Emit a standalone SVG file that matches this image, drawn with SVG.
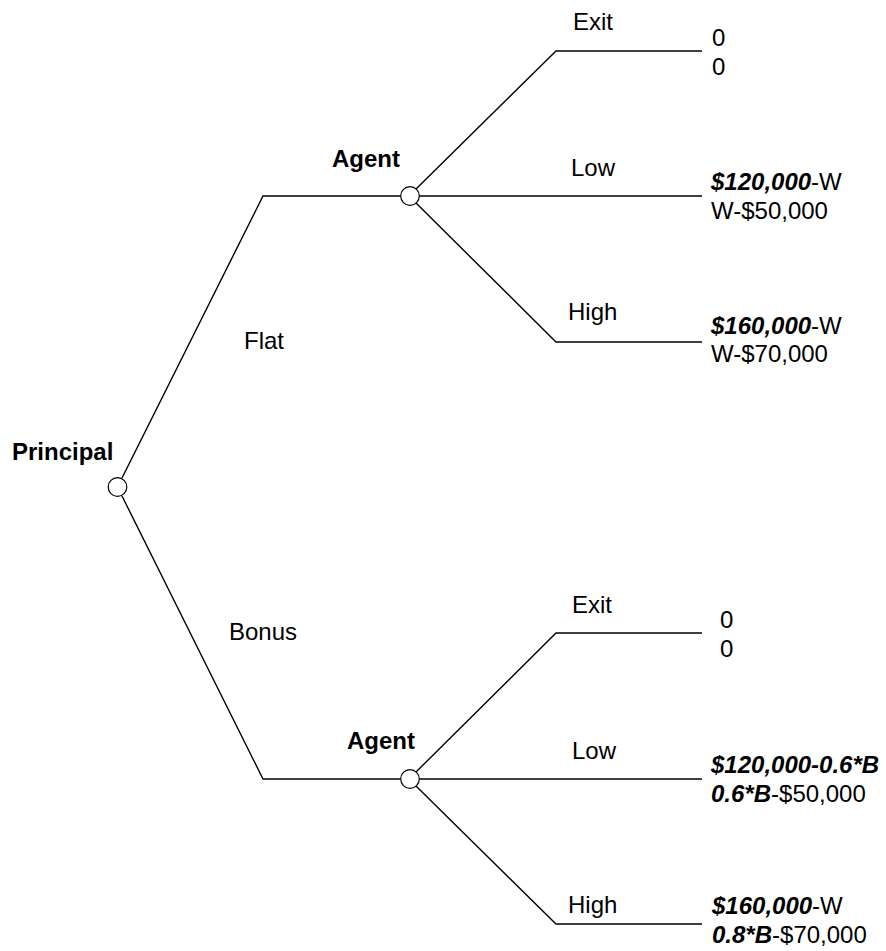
<svg xmlns="http://www.w3.org/2000/svg" width="886" height="951" viewBox="0 0 886 951">
<style>
text{font-family:"Liberation Sans",Arial,sans-serif;font-size:24px;fill:#000}
.b{font-weight:bold}
.bi{font-weight:bold;font-style:italic}
.edge{fill:none;stroke:#000;stroke-width:1.4}
.node{fill:#fff;stroke:#000;stroke-width:1.2}
</style>
<rect width="886" height="951" fill="#fff"/>
<g id="connectors">
<polyline class="edge" points="122,478 263,196 401,196"/>
<polyline class="edge" points="122,496 263,779 401,779"/>
<polyline class="edge" points="416,189 556,51 702,51"/>
<polyline class="edge" points="419,196 556,196 702,196"/>
<polyline class="edge" points="416,203 556,342 702,342"/>
<polyline class="edge" points="416,772 556,633 702,633"/>
<polyline class="edge" points="419,779 556,779 702,779"/>
<polyline class="edge" points="416,786 556,924 702,924"/>
</g>
<g id="edge-labels">
<text x="244" y="349">Flat</text>
<text x="229" y="640">Bonus</text>
<text x="573" y="30">Exit</text>
<text x="571" y="176">Low</text>
<text x="568" y="320">High</text>
<text x="572" y="613">Exit</text>
<text x="572" y="759">Low</text>
<text x="568" y="913">High</text>
</g>
<g id="principal">
<circle class="node" cx="117.5" cy="487" r="9.3"/>
<text class="b" x="12" y="460">Principal</text>
</g>
<g id="agent-flat">
<circle class="node" cx="410" cy="196" r="9.3"/>
<text class="b" x="332" y="167">Agent</text>
</g>
<g id="agent-bonus">
<circle class="node" cx="410" cy="779" r="9.3"/>
<text class="b" x="347" y="749">Agent</text>
</g>
<g id="payoff-flat-exit">
<text x="712" y="46">0</text>
<text x="712" y="75">0</text>
</g>
<g id="payoff-flat-low">
<text x="711" y="190"><tspan class="bi">$120,000</tspan>-W</text>
<text x="711" y="219">W-$50,000</text>
</g>
<g id="payoff-flat-high">
<text x="711" y="334"><tspan class="bi">$160,000</tspan>-W</text>
<text x="711" y="362">W-$70,000</text>
</g>
<g id="payoff-bonus-exit">
<text x="720" y="628">0</text>
<text x="720" y="657">0</text>
</g>
<g id="payoff-bonus-low">
<text class="bi" x="711" y="773">$120,000-0.6*B</text>
<text x="711" y="802"><tspan class="bi">0.6*B</tspan>-$50,000</text>
</g>
<g id="payoff-bonus-high">
<text x="712" y="914"><tspan class="bi">$160,000</tspan>-W</text>
<text x="712" y="943"><tspan class="bi">0.8*B</tspan>-$70,000</text>
</g>
</svg>
